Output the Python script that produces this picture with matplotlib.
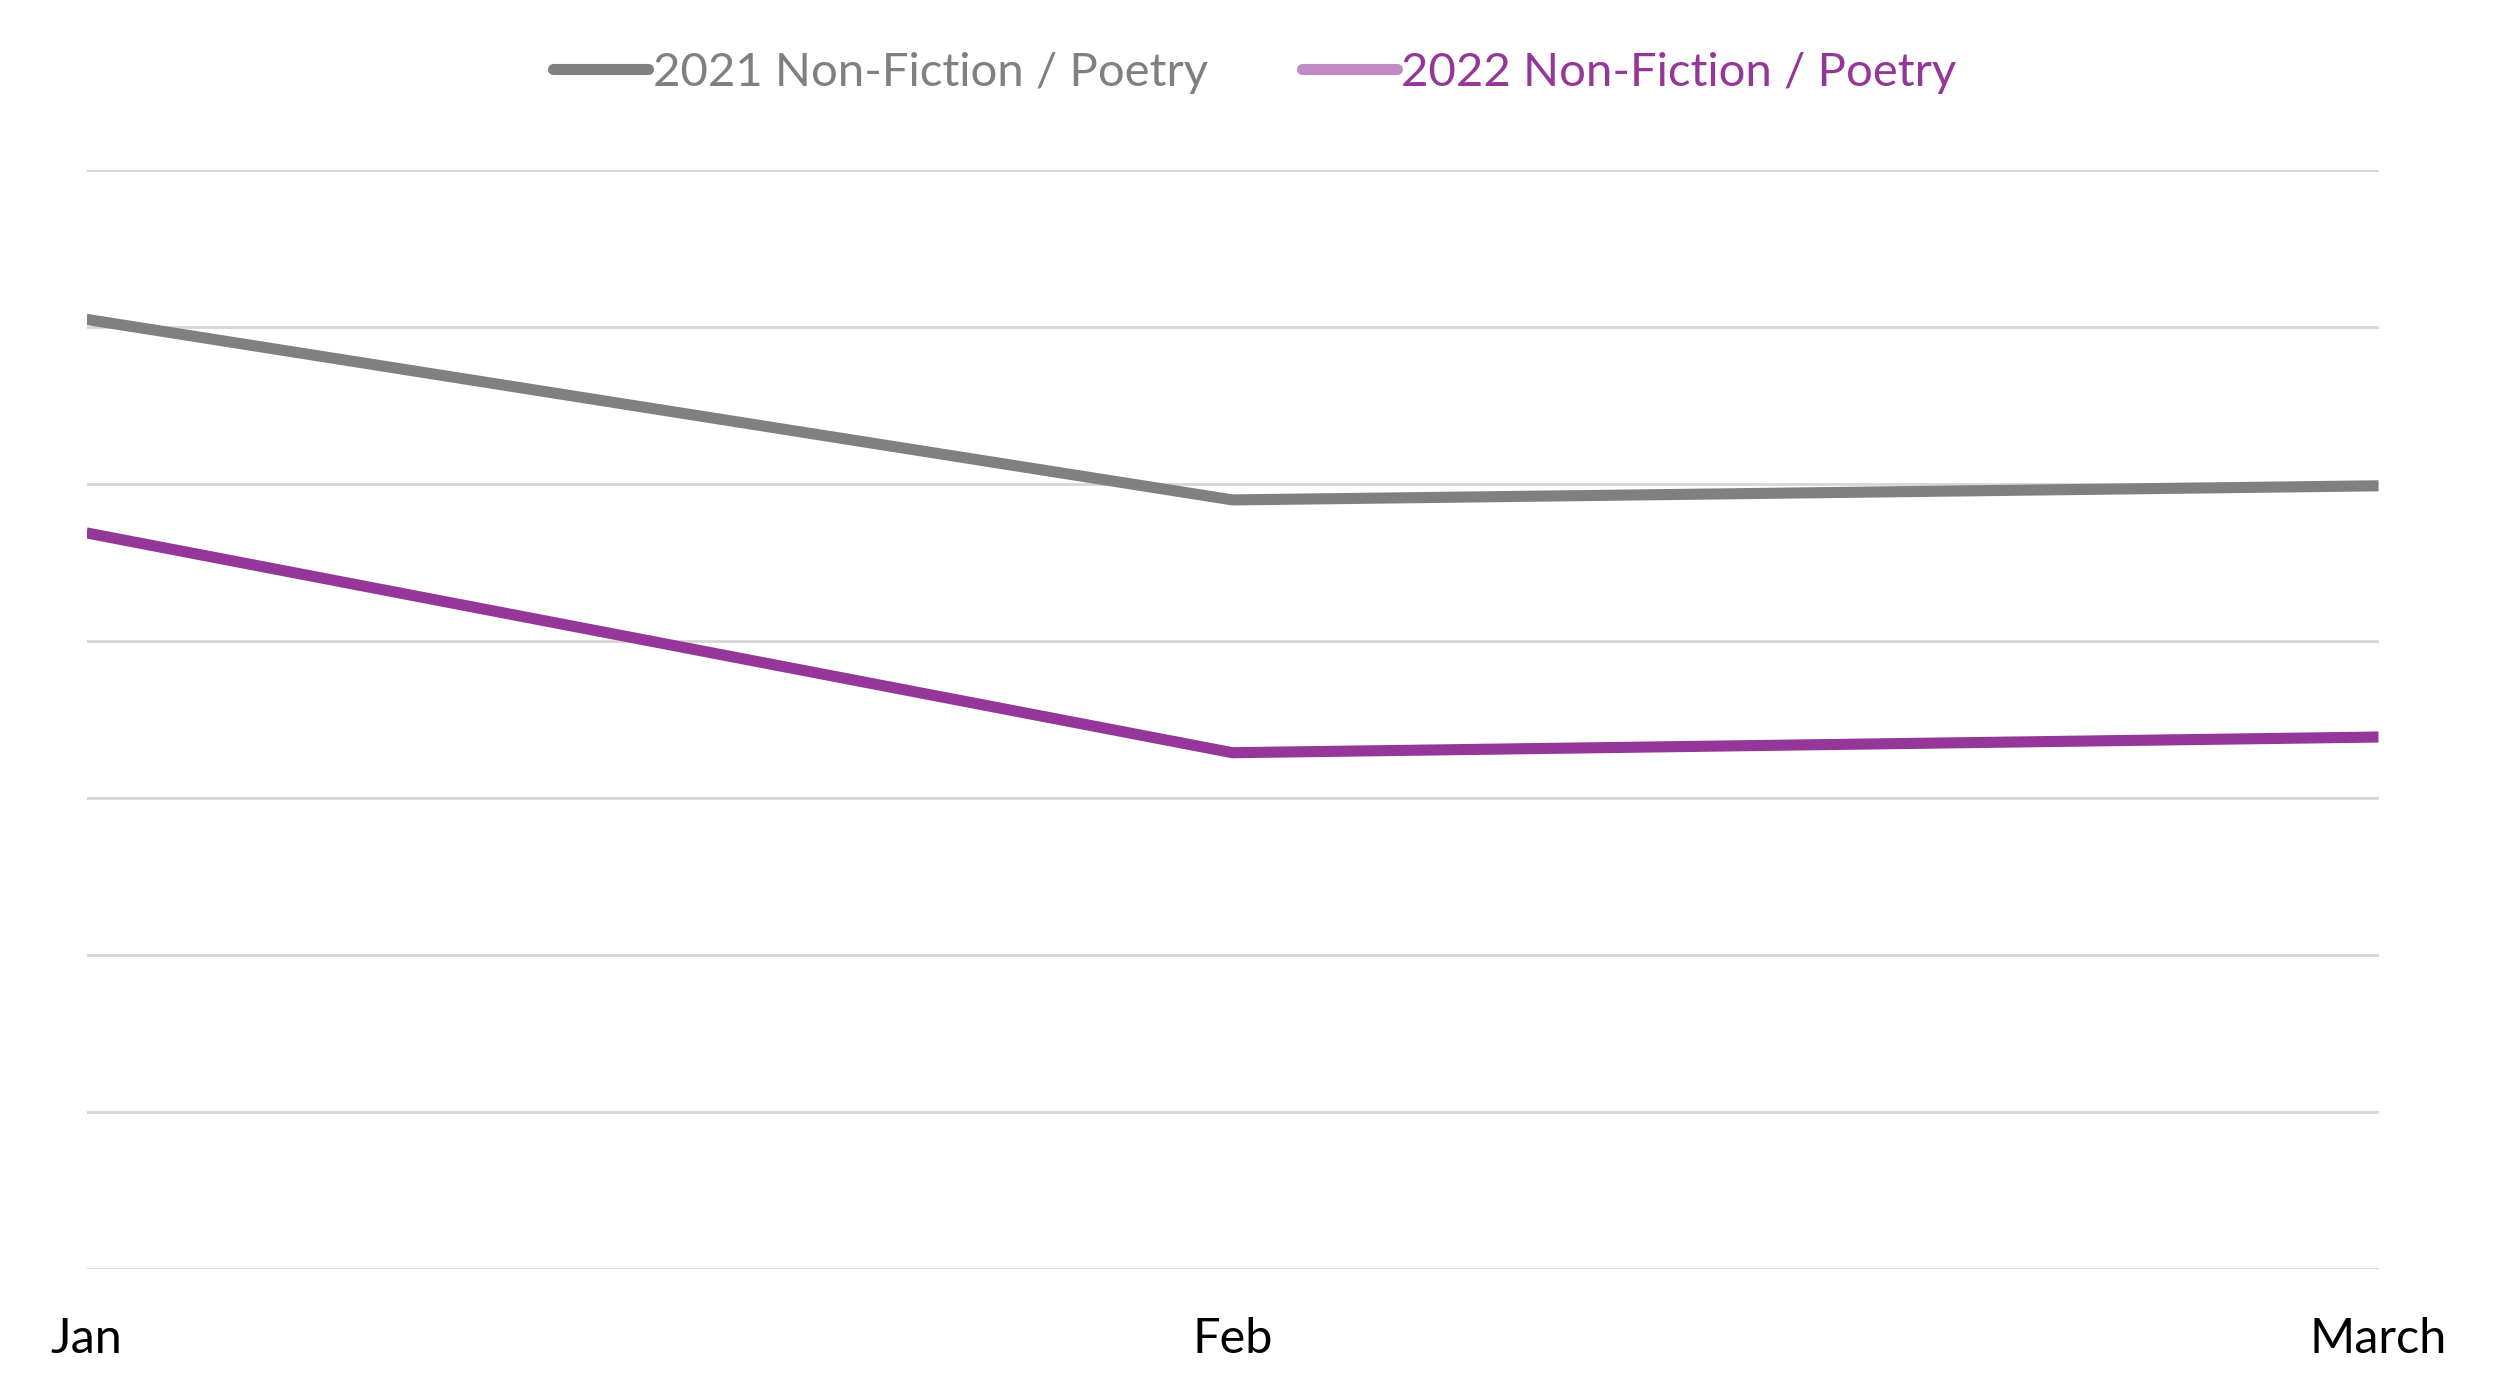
import matplotlib.pyplot as plt
from matplotlib.lines import Line2D

months = ['Jan', 'Feb', 'March']
sales_2021 = [60.5, 49.0, 49.9]
sales_2022 = [46.9, 32.9, 33.9]

gray = '#808080'
purple = '#953699'
purple_light = '#c08bc2'

plt.rcParams['font.family'] = ['Lato', 'DejaVu Sans']

fig = plt.figure(figsize=(25, 13.95), dpi=100)
ax = fig.add_axes([0.0346, 0.0901, 0.9168, 0.7879])

x = range(len(months))
ax.plot(x, sales_2021, color=gray, linewidth=8, solid_capstyle='butt', zorder=3)
ax.plot(x, sales_2022, color=purple, linewidth=8, solid_capstyle='butt', zorder=3)

ax.set_xlim(0, len(months) - 1)
ax.set_ylim(0, 70)
ax.set_yticks(range(0, 71, 10))
ax.yaxis.grid(True, color='#d6d6d6', linewidth=2)
ax.set_yticklabels([])
ax.tick_params(axis='y', length=0)
ax.set_xticks(list(x))
ax.set_xticklabels(months, fontsize=35, color='black')
ax.tick_params(axis='x', length=0, pad=34)
for s in ax.spines.values():
    s.set_visible(False)

handles = [Line2D([], [], color=gray, linewidth=8, solid_capstyle='round'),
           Line2D([], [], color=purple_light, linewidth=8, solid_capstyle='round')]
leg = fig.legend(handles, ['2021 Non-Fiction / Poetry', '2022 Non-Fiction / Poetry'],
                 loc='center', bbox_to_anchor=(0.502, 0.948), ncol=2, frameon=False,
                 fontsize=34, handlelength=2.0, handletextpad=0.1, columnspacing=2.0)
for t, c in zip(leg.get_texts(), [gray, purple]):
    t.set_color(c)

fig.savefig('out.png', dpi=100)
